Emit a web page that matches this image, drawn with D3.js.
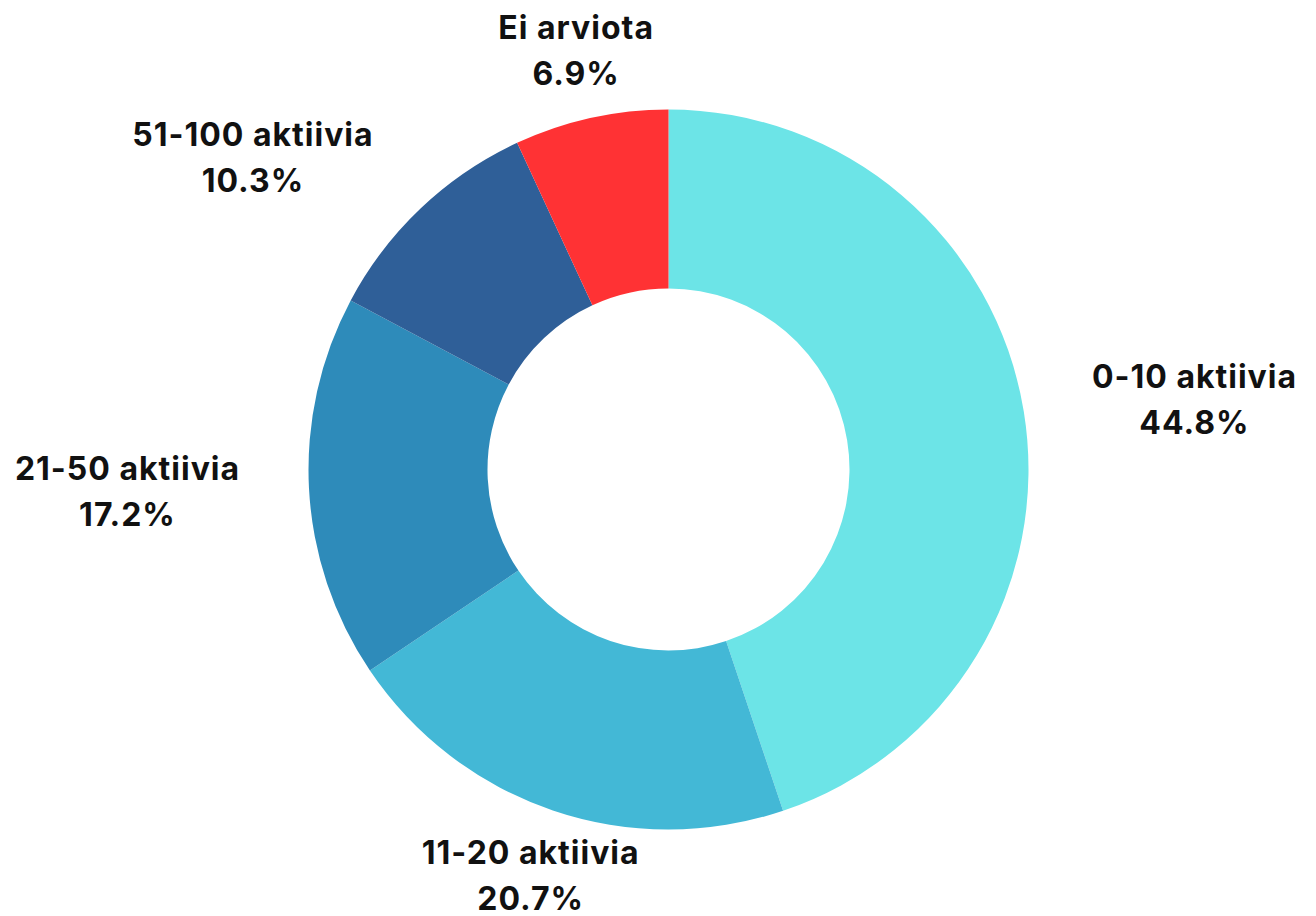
<!DOCTYPE html>
<html>
<head>
<meta charset="utf-8">
<script src="https://cdn.jsdelivr.net/npm/d3@7"></script>
<style>
  html, body { margin: 0; padding: 0; background: #ffffff; }
  svg { display: block; }
  text { font-family: Inter, "Noto Sans", sans-serif; font-weight: 700; fill: #111111; letter-spacing: 1px; }
</style>
</head>
<body>
<svg id="chart" width="1316" height="916"></svg>
<script>
const categories = ["0-10 aktiivia", "11-20 aktiivia", "21-50 aktiivia", "51-100 aktiivia", "Ei arviota"];
const values = [44.8, 20.7, 17.2, 10.3, 6.9];
const valueLabels = ["44.8%", "20.7%", "17.2%", "10.3%", "6.9%"];
const colors = ["#6ce4e7", "#43b8d6", "#2e8bba", "#2f5f98", "#ff3234"];

const width = 1316, height = 916;
const cx = 668.5, cy = 469.5;
const outerR = 360, innerR = 181;
const labelR = 429;

const svg = d3.select("#chart");
const g = svg.append("g").attr("transform", `translate(${cx},${cy})`);

const data = categories.map((c, i) => ({ cat: c, value: values[i], label: valueLabels[i], color: colors[i] }));

const pie = d3.pie().value(d => d.value).sort(null);
const arcs = pie(data);
const arc = d3.arc().innerRadius(innerR).outerRadius(outerR);

g.selectAll("path.slice")
  .data(arcs)
  .join("path")
  .attr("class", "slice")
  .attr("d", arc)
  .attr("fill", d => d.data.color);

function anchorFor(d) {
  const a = (d.startAngle + d.endAngle) / 2;
  const s = Math.sin(a);
  if (s > 0.5) return "start";
  if (s < -0.5) return "end";
  return "middle";
}

const labels = g.selectAll("g.label")
  .data(arcs)
  .join("g")
  .attr("class", "label")
  .attr("transform", d => {
    const a = (d.startAngle + d.endAngle) / 2;
    const x = labelR * Math.sin(a);
    const y = -labelR * Math.cos(a);
    return `translate(${x},${y})`;
  });

labels.append("text")
  .attr("text-anchor", anchorFor)
  .attr("font-size", 32)
  .attr("y", -12)
  .text(d => d.data.cat);

labels.append("text")
  .attr("font-size", 32)
  .attr("y", 34)
  .attr("dx", function(d) {
    // centre the value line under the category line for side labels
    const a = anchorFor(d);
    if (a === "middle") return 0;
    const parent = this.parentNode;
    const catW = parent.querySelector("text").getComputedTextLength();
    return a === "start" ? catW / 2 : -catW / 2;
  })
  .attr("text-anchor", "middle")
  .text(d => d.data.label);
</script>
</body>
</html>
